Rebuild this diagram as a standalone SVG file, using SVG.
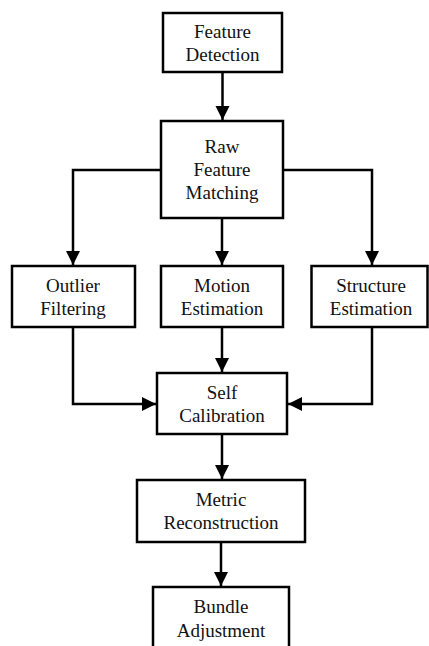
<svg xmlns="http://www.w3.org/2000/svg" width="429" height="646" viewBox="0 0 429 646">
<defs>
<style>
.box{fill:#fff;stroke:#000;stroke-width:2.5}
.lbl{font-size:19px;fill:#111;text-anchor:middle}
.con{fill:none;stroke:#000;stroke-width:2.5}
</style>
<marker id="ah" markerUnits="userSpaceOnUse" markerWidth="16" markerHeight="16" viewBox="0 0 16 16" refX="14" refY="8" orient="auto">
<path d="M0,1 L14,8 L0,15 Z" fill="#000"/>
</marker>
</defs>
<rect width="429" height="646" fill="#fff"/>
<g id="connectors">
<path class="con" d="M222.5,72 V120" marker-end="url(#ah)"/>
<path class="con" d="M161,170 H73 V265" marker-end="url(#ah)"/>
<path class="con" d="M283,170 H372 V265" marker-end="url(#ah)"/>
<path class="con" d="M222,218 V265" marker-end="url(#ah)"/>
<path class="con" d="M222,327 V372" marker-end="url(#ah)"/>
<path class="con" d="M73,327 V404 H156" marker-end="url(#ah)"/>
<path class="con" d="M372,327 V404 H288" marker-end="url(#ah)"/>
<path class="con" d="M222,434 V479" marker-end="url(#ah)"/>
<path class="con" d="M221,542 V586" marker-end="url(#ah)"/>
</g>
<g font-family="Liberation Serif, DejaVu Serif, serif">
<g id="feature-detection">
<rect class="box" x="163" y="13" width="119" height="59"/>
<text class="lbl" x="222.5" y="37.5">Feature</text>
<text class="lbl" x="222.5" y="60.5">Detection</text>
</g>
<g id="raw-feature-matching">
<rect class="box" x="161" y="121" width="122" height="97"/>
<text class="lbl" x="222" y="153">Raw</text>
<text class="lbl" x="222" y="176">Feature</text>
<text class="lbl" x="222" y="199">Matching</text>
</g>
<g id="outlier-filtering">
<rect class="box" x="12" y="266" width="123" height="61"/>
<text class="lbl" x="73" y="292">Outlier</text>
<text class="lbl" x="73" y="315">Filtering</text>
</g>
<g id="motion-estimation">
<rect class="box" x="161" y="266" width="122" height="61"/>
<text class="lbl" x="222" y="292">Motion</text>
<text class="lbl" x="222" y="315">Estimation</text>
</g>
<g id="structure-estimation">
<rect class="box" x="311.5" y="266" width="116" height="61"/>
<text class="lbl" x="371" y="292">Structure</text>
<text class="lbl" x="371" y="315">Estimation</text>
</g>
<g id="self-calibration">
<rect class="box" x="157" y="373" width="130" height="61"/>
<text class="lbl" x="222" y="398.5">Self</text>
<text class="lbl" x="222" y="422">Calibration</text>
</g>
<g id="metric-reconstruction">
<rect class="box" x="137" y="480" width="168" height="62"/>
<text class="lbl" x="221" y="506">Metric</text>
<text class="lbl" x="221" y="529">Reconstruction</text>
</g>
<g id="bundle-adjustment">
<rect class="box" x="153" y="587" width="136" height="70"/>
<text class="lbl" x="221" y="613">Bundle</text>
<text class="lbl" x="221" y="637">Adjustment</text>
</g>
</g>
</svg>
